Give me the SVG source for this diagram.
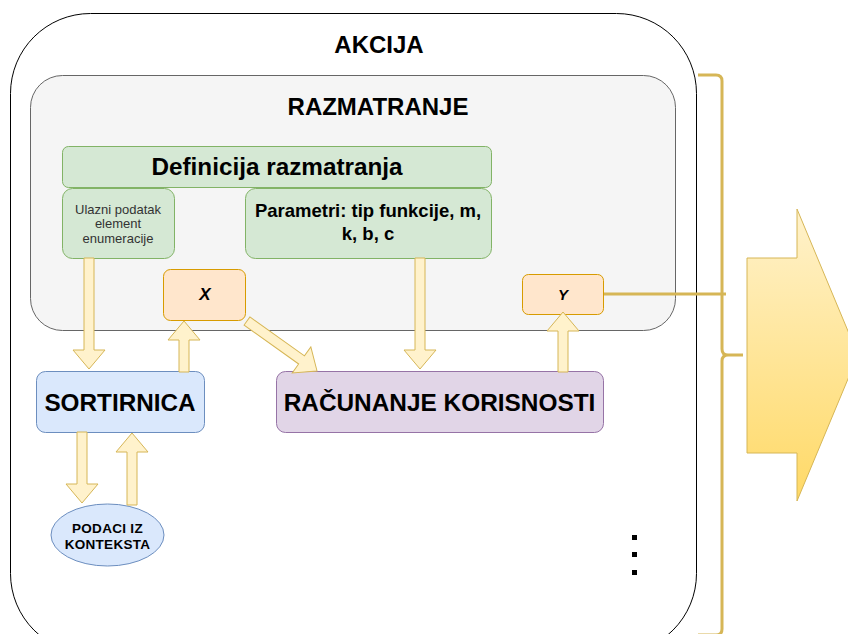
<svg xmlns="http://www.w3.org/2000/svg" width="848" height="634" viewBox="0 0 848 634">
<style>
text{font-family:"Liberation Sans",Arial,sans-serif;text-anchor:middle;fill:#000}
.b{font-weight:bold}
.flex{fill:#fff2cc;stroke:#d6b656;stroke-width:1}
.green{fill:#d5e8d4;stroke:#82b366;stroke-width:1}
.orange{fill:#ffe6cc;stroke:#d79b00;stroke-width:1}
.blue{fill:#dae8fc;stroke:#6c8ebf;stroke-width:1}
.purple{fill:#e1d5e7;stroke:#9673a6;stroke-width:1}
.gold{fill:none;stroke:#d6b656;stroke-width:3}
</style>
<defs>
<linearGradient id="g" x1="0" y1="0" x2="0" y2="1">
<stop offset="0" stop-color="#fff2cc"/>
<stop offset="1" stop-color="#ffd966"/>
</linearGradient>
</defs>
<g id="akcija">
<rect x="10.5" y="13.5" width="686" height="640" rx="80" ry="80" fill="#fff" stroke="#000"/>
<text x="379" y="53" class="b" font-size="24">AKCIJA</text>
</g>
<g id="razmatranje">
<rect x="30.5" y="75.5" width="645" height="255" rx="32" ry="32" fill="#f5f5f5" stroke="#666"/>
<text x="378" y="115" class="b" font-size="24">RAZMATRANJE</text>
</g>
<g id="definicija">
<rect x="62.5" y="146.5" width="429" height="41" rx="6" class="green"/>
<text x="277" y="175" class="b" font-size="24.3">Definicija razmatranja</text>
</g>
<g id="ulazni">
<rect x="62.5" y="188.5" width="112" height="70" rx="10" class="green"/>
<text x="118" y="213.5" font-size="13" style="fill:#333">Ulazni podatak</text>
<text x="118" y="228" font-size="13" style="fill:#333">element</text>
<text x="118" y="242.5" font-size="13" style="fill:#333">enumeracije</text>
</g>
<g id="parametri">
<rect x="245.5" y="188.5" width="246" height="70" rx="10" class="green"/>
<text x="368" y="217" class="b" font-size="18.5">Parametri: tip funkcije, m,</text>
<text x="368" y="240" class="b" font-size="18.5">k, b, c</text>
</g>
<g id="x">
<rect x="163.5" y="269.5" width="82" height="51" rx="7" class="orange"/>
<text x="205" y="300" class="b" font-size="17" font-style="italic">X</text>
</g>
<g id="y">
<rect x="522.5" y="274.5" width="81" height="40" rx="6" class="orange"/>
<text x="563" y="300" class="b" font-size="15" font-style="italic">Y</text>
</g>
<g id="sortirnica">
<rect x="36.5" y="371.5" width="168" height="61" rx="9" class="blue"/>
<text x="120" y="411" class="b" font-size="24.3">SORTIRNICA</text>
</g>
<g id="racunanje">
<rect x="276.5" y="371.5" width="327" height="61" rx="9" class="purple"/>
<text x="439.5" y="411" class="b" font-size="24.4">RAČUNANJE KORISNOSTI</text>
</g>
<g id="podaci">
<ellipse cx="107.5" cy="535" rx="56.5" ry="31" class="blue"/>
<text x="107.5" y="533" class="b" font-size="13.5" letter-spacing="0.3">PODACI IZ</text>
<text x="107.5" y="548.5" class="b" font-size="13.5" letter-spacing="0.3">KONTEKSTA</text>
</g>
<g id="dots" fill="#000">
<rect x="632" y="535" width="5" height="5"/>
<rect x="632" y="552" width="5" height="5"/>
<rect x="632" y="570" width="5" height="5"/>
</g>
<g id="output-arrow">
<polygon points="747,258 797,258 797,209 858,355 797,501 797,453 747,453" fill="url(#g)" stroke="#d6b656"/>
</g>
<g id="connectors">
<polygon class="flex" points="84,258 94,258 94,350 105,350 89,369 73,350 84,350"/>
<polygon class="flex" points="415,258 425,258 425,350 436,350 420,369 404,350 415,350"/>
<polygon class="flex" points="77,432 87,432 87,484 98,484 82,503 66,484 77,484"/>
<polygon class="flex" points="179,372 189,372 189,340 200,340 184,321 168,340 179,340"/>
<polygon class="flex" points="558,372 568,372 568,331 579,331 563,312 547,331 558,331"/>
<polygon class="flex" points="127,505 137,505 137,452 148,452 132,433 116,452 127,452"/>
<polygon class="flex" transform="translate(247,321) rotate(35.5)" points="0,-5 67,-5 67,-16 86,0 67,16 67,5 0,5"/>
<line class="gold" x1="604" y1="294" x2="726" y2="294"/>
<path class="gold" d="M698,75 h18 q6,0 6,6 V349 q0,6 6,6 h15 M728,355 q-6,0 -6,6 V629 q0,6 -6,6 h-18"/>
</g>
</svg>
